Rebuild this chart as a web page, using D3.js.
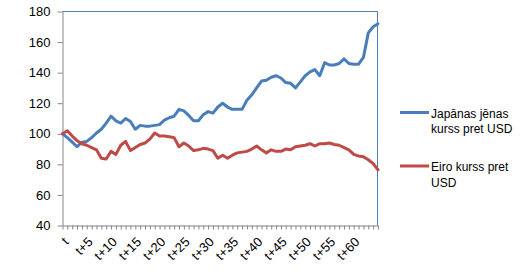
<!DOCTYPE html>
<html>
<head>
<meta charset="utf-8">
<script src="https://cdn.jsdelivr.net/npm/d3@7"></script>
<style>
  body { margin: 0; background: #fff; }
  text { font-family: "Liberation Sans", Arial, sans-serif; font-size: 12px; fill: #000; }
</style>
</head>
<body>
<div id="chart"></div>
<script>
// Category labels (every period) and the ones shown under the axis
const categories = ['t', 't+1', 't+2', 't+3', 't+4', 't+5', 't+6', 't+7', 't+8', 't+9',
  't+10', 't+11', 't+12', 't+13', 't+14', 't+15', 't+16', 't+17', 't+18', 't+19',
  't+20', 't+21', 't+22', 't+23', 't+24', 't+25', 't+26', 't+27', 't+28', 't+29',
  't+30', 't+31', 't+32', 't+33', 't+34', 't+35', 't+36', 't+37', 't+38', 't+39',
  't+40', 't+41', 't+42', 't+43', 't+44', 't+45', 't+46', 't+47', 't+48', 't+49',
  't+50', 't+51', 't+52', 't+53', 't+54', 't+55', 't+56', 't+57', 't+58', 't+59',
  't+60', 't+61', 't+62', 't+63', 't+64', 't+65'];
const tickLabels = ['t', 't+5', 't+10', 't+15', 't+20', 't+25', 't+30', 't+35', 't+40', 't+45', 't+50', 't+55', 't+60'];
const yTicks = [40, 60, 80, 100, 120, 140, 160, 180];

// Series names (legend, wrapped on two lines)
const seriesNames = [['Japānas jēnas', 'kurss pret USD'], ['Eiro kurss pret', 'USD']];

// Japanese yen index vs USD
const yenValues = [100, 97.5, 94.5, 91.5, 94.5, 95, 97.5, 100.5, 103, 107,
  111.5, 108.5, 107, 110, 108, 103, 105.5, 105, 105, 105.5,
  106, 109, 110.5, 111.5, 116, 115, 112, 108.5, 108.5, 112.5,
  114.5, 113.5, 117.5, 120, 117.5, 116, 116, 116, 122, 125.5,
  130, 134.5, 135, 137, 138, 136.5, 133.5, 133, 130, 134,
  138, 140.5, 142, 138, 146.5, 145, 145, 146, 149, 146,
  145.5, 145.5, 150, 166, 170, 172];

// Euro index vs USD
const euroValues = [100, 102, 98.5, 95.5, 93.5, 92.5, 91, 89.5, 84, 83.5,
  88.5, 86.5, 92.5, 95, 89, 91, 93, 94, 96.5, 100.5,
  98.5, 98.5, 98, 97.5, 91.5, 94, 92, 89, 89.5, 90.5,
  90, 89, 84, 86, 84, 86, 87.5, 88, 88.5, 90,
  92, 89.5, 87.5, 89.5, 88.5, 88.5, 90, 89.5, 91.5, 92,
  92.5, 93.5, 92, 93.5, 93.5, 94, 93, 92.5, 91, 89.5,
  86.5, 85.5, 85, 83, 80.5, 76.5];

const colors = ['#4a7ebb', '#be4b48'];

const width = 528;
const height = 276;
const plot = { left: 62.5, right: 378, top: 11.5, bottom: 225.5 };

const svg = d3.select('#chart').append('svg')
  .attr('width', width)
  .attr('height', height);

const x = d3.scalePoint()
  .domain(categories)
  .range([plot.left, plot.right]);

const y = d3.scaleLinear()
  .domain([40, 180])
  .range([plot.bottom, plot.top]);

// Plot area border on top and right side
svg.append('path')
  .attr('d', `M${plot.left},${plot.top}H${plot.right - 0.5}V${plot.bottom}`)
  .attr('fill', 'none')
  .attr('stroke', '#4a7ebb')
  .attr('stroke-width', 1);

// Y axis
const yAxis = svg.append('g')
  .attr('transform', `translate(${plot.left},0)`)
  .call(d3.axisLeft(y).tickValues(yTicks).tickSize(5).tickSizeOuter(0).tickPadding(7));
yAxis.selectAll('path, line').attr('stroke', '#868686');
yAxis.selectAll('text').style('font-size', '13px').style('font-family', '"Liberation Sans", Arial, sans-serif');

// X axis
const xAxis = svg.append('g')
  .attr('transform', `translate(0,${plot.bottom})`)
  .call(d3.axisBottom(x).tickSize(4).tickSizeOuter(0)
    .tickFormat(d => tickLabels.includes(d) ? d : ''));
xAxis.selectAll('path, line').attr('stroke', '#868686');
xAxis.selectAll('text')
  .style('font-size', '13px')
  .style('font-family', '"Liberation Sans", Arial, sans-serif')
  .attr('text-anchor', 'end')
  .attr('y', 0)
  .attr('dy', '0.35em')
  .attr('transform', 'translate(3,14) rotate(-45)');

// Lines
const line = d3.line()
  .x((d, i) => x(categories[i]))
  .y(d => y(d));

[yenValues, euroValues].forEach((vals, k) => {
  svg.append('path')
    .datum(vals)
    .attr('d', line)
    .attr('fill', 'none')
    .attr('stroke', colors[k])
    .attr('stroke-width', 3)
    .attr('stroke-linejoin', 'round')
    .attr('stroke-linecap', 'round');
});

// Legend
const legend = svg.selectAll('.legend')
  .data(seriesNames)
  .enter().append('g')
  .attr('class', 'legend')
  .attr('transform', (d, i) => `translate(400,${i === 0 ? 112.5 : 166})`);

legend.append('line')
  .attr('x1', 0)
  .attr('x2', 29)
  .attr('stroke', (d, i) => colors[i])
  .attr('stroke-width', 3);

legend.append('text')
  .attr('x', 31)
  .attr('y', 5)
  .selectAll('tspan')
  .data(d => d)
  .enter().append('tspan')
  .attr('x', 31)
  .attr('dy', (d, i) => i === 0 ? 0 : 15.8)
  .text(d => d);
</script>
</body>
</html>
